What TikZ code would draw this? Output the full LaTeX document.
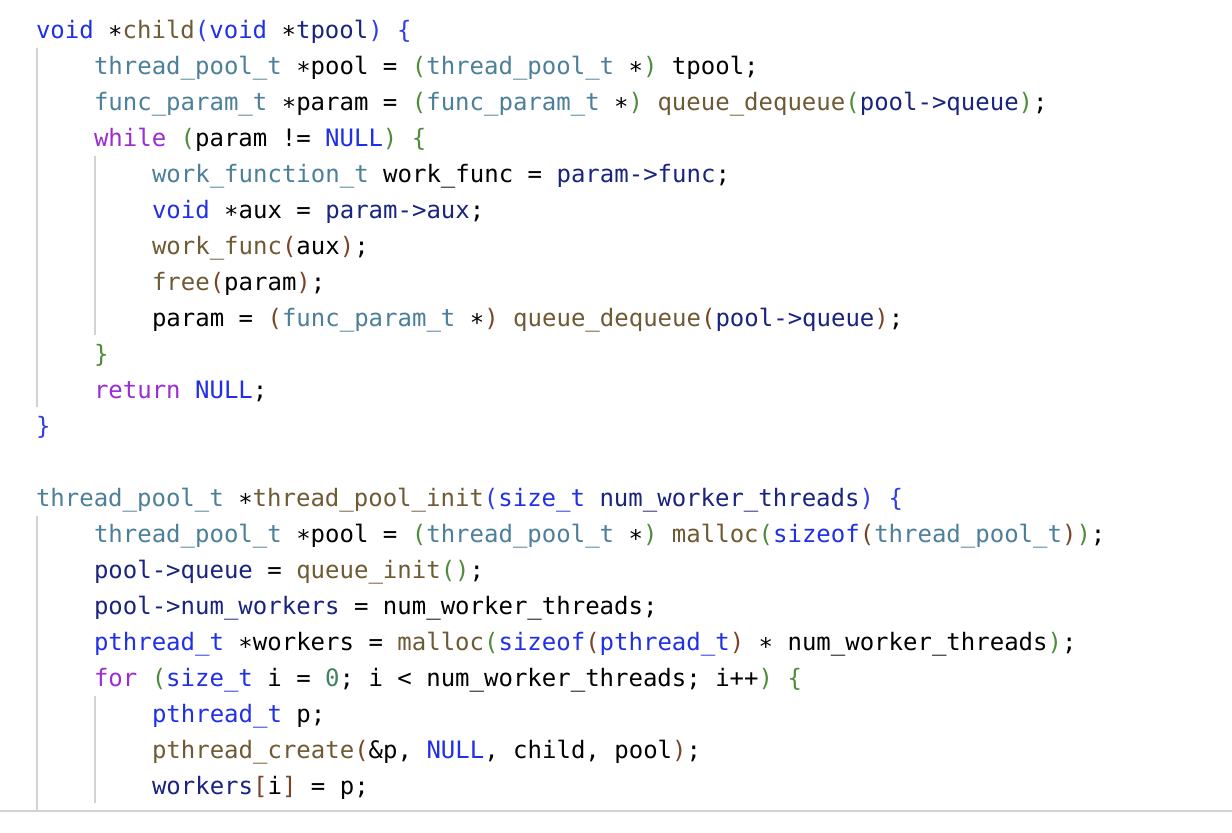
\documentclass[tikz,border=0pt]{standalone}
\usepackage[HTML]{xcolor}
\usepackage{fontspec}
\setmonofont{DejaVu Sans Mono}
\usepackage{tikz}

\definecolor{kwblue}{HTML}{2030E6}
\definecolor{tyteal}{HTML}{4C7F99}
\definecolor{fnbrown}{HTML}{6E5A33}
\definecolor{ctlpurple}{HTML}{9A2DD4}
\definecolor{fldnavy}{HTML}{1A237E}
\definecolor{numgreen}{HTML}{3F8360}
\definecolor{brblue}{HTML}{2F3CE8}
\definecolor{brgreen}{HTML}{4C8C3A}
\definecolor{brbrown}{HTML}{7A4526}
\definecolor{guidegray}{HTML}{D2D2D2}

\newcommand{\ckw}[1]{\textcolor{kwblue}{#1}}
\newcommand{\cty}[1]{\textcolor{tyteal}{#1}}
\newcommand{\cfn}[1]{\textcolor{fnbrown}{#1}}
\newcommand{\cctl}[1]{\textcolor{ctlpurple}{#1}}
\newcommand{\cfld}[1]{\textcolor{fldnavy}{#1}}
\newcommand{\cnum}[1]{\textcolor{numgreen}{#1}}
\newcommand{\bra}[1]{\textcolor{brblue}{#1}}
\newcommand{\brb}[1]{\textcolor{brgreen}{#1}}
\newcommand{\brc}[1]{\textcolor{brbrown}{#1}}
\newcommand{\cstar}{\char"2217}

\tikzset{
  codeline/.style={anchor=base west, inner sep=0pt, outer sep=0pt,
    font=\ttfamily\fontsize{12}{14}\selectfont, text=black},
  guide/.style={guidegray, line width=1pt}
}

\begin{document}
\begin{tikzpicture}[x=0.5pt,y=-0.5pt]
\useasboundingbox[fill=white] (0,0) rectangle (1232,832);

\draw[guide] (37,48) -- (37,407);
\draw[guide] (95,156) -- (95,335);
\draw[guide] (37,516) -- (37,811);
\draw[guide] (95,696) -- (95,803);
\draw[guidegray, line width=1.2pt] (0,811) -- (1232,811);

\node[codeline] (l1) at (36,38) {\ckw{void} \cstar\cfn{child}\bra{(}\ckw{void} \cstar\cfld{tpool}\bra{)} \bra{\{}};
\node[codeline] (l2) at (94,74) {\cty{thread\_pool\_t} \cstar pool = \brb{(}\cty{thread\_pool\_t} \cstar\brb{)} tpool;};
\node[codeline] (l3) at (94,110) {\cty{func\_param\_t} \cstar param = \brb{(}\cty{func\_param\_t} \cstar\brb{)} \cfn{queue\_dequeue}\brb{(}\cfld{pool->queue}\brb{)};};
\node[codeline] (l4) at (94,146) {\cctl{while} \brb{(}param != \ckw{NULL}\brb{)} \brb{\{}};
\node[codeline] (l5) at (152,182) {\cty{work\_function\_t} work\_func = \cfld{param->func};};
\node[codeline] (l6) at (152,218) {\ckw{void} \cstar aux = \cfld{param->aux};};
\node[codeline] (l7) at (152,254) {\cfn{work\_func}\brc{(}aux\brc{)};};
\node[codeline] (l8) at (152,290) {\cfn{free}\brc{(}param\brc{)};};
\node[codeline] (l9) at (152,326) {param = \brc{(}\cty{func\_param\_t} \cstar\brc{)} \cfn{queue\_dequeue}\brc{(}\cfld{pool->queue}\brc{)};};
\node[codeline] (l10) at (94,362) {\brb{\}}};
\node[codeline] (l11) at (94,398) {\cctl{return} \ckw{NULL};};
\node[codeline] (l12) at (36,434) {\bra{\}}};

\node[codeline] (l14) at (36,506) {\cty{thread\_pool\_t} \cstar\cfn{thread\_pool\_init}\bra{(}\ckw{size\_t} \cfld{num\_worker\_threads}\bra{)} \bra{\{}};
\node[codeline] (l15) at (94,542) {\cty{thread\_pool\_t} \cstar pool = \brb{(}\cty{thread\_pool\_t} \cstar\brb{)} \cfn{malloc}\brb{(}\ckw{sizeof}\brc{(}\cty{thread\_pool\_t}\brc{)}\brb{)};};
\node[codeline] (l16) at (94,578) {\cfld{pool->queue} = \cfn{queue\_init}\brb{()};};
\node[codeline] (l17) at (94,614) {\cfld{pool->num\_workers} = num\_worker\_threads;};
\node[codeline] (l18) at (94,650) {\ckw{pthread\_t} \cstar workers = \cfn{malloc}\brb{(}\ckw{sizeof}\brc{(}\ckw{pthread\_t}\brc{)} \cstar{} num\_worker\_threads\brb{)};};
\node[codeline] (l19) at (94,686) {\cctl{for} \brb{(}\ckw{size\_t} i = \cnum{0}; i < num\_worker\_threads; i++\brb{)} \brb{\{}};
\node[codeline] (l20) at (152,722) {\ckw{pthread\_t} p;};
\node[codeline] (l21) at (152,758) {\cfn{pthread\_create}\brc{(}\&p, \ckw{NULL}, child, pool\brc{)};};
\node[codeline] (l22) at (152,794) {\cfld{workers}\brc{[}i\brc{]} = p;};
\end{tikzpicture}
\end{document}
